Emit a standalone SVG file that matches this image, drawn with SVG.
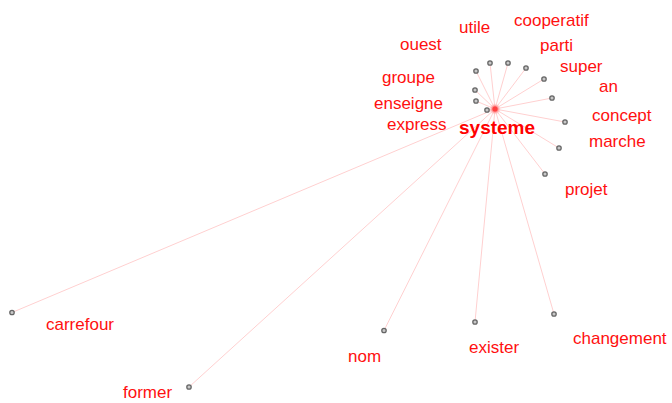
<svg xmlns="http://www.w3.org/2000/svg" width="672" height="403" viewBox="0 0 672 403">
<style>
.lbl{font-family:"Liberation Sans",Arial,sans-serif;font-size:17px;fill:#ff1010}
.main{font-family:"Liberation Sans",Arial,sans-serif;font-size:19px;font-weight:bold;fill:#ff0000}
.dot{fill:#c8c8c8;stroke:#666666;stroke-width:1.3}
#edges line{stroke:#ffd0d0;stroke-width:1}
</style>
<defs>
<radialGradient id="glow"><stop offset="0" stop-color="#ff5050"/><stop offset="0.45" stop-color="#ff8080"/><stop offset="1" stop-color="#ffd0d0" stop-opacity="0"/></radialGradient>
</defs>
<rect width="672" height="403" fill="#ffffff"/>
<g id="edges">
<line x1="495" y1="109" x2="476" y2="71"/>
<line x1="495" y1="109" x2="490" y2="63"/>
<line x1="495" y1="109" x2="508" y2="63"/>
<line x1="495" y1="109" x2="526" y2="68"/>
<line x1="495" y1="109" x2="544" y2="79"/>
<line x1="495" y1="109" x2="552" y2="98"/>
<line x1="495" y1="109" x2="565" y2="122"/>
<line x1="495" y1="109" x2="559" y2="148"/>
<line x1="495" y1="109" x2="545" y2="174"/>
<line x1="495" y1="109" x2="475" y2="90"/>
<line x1="495" y1="109" x2="476" y2="101"/>
<line x1="495" y1="109" x2="487" y2="110"/>
<line x1="495" y1="109" x2="12" y2="312.5"/>
<line x1="495" y1="109" x2="189" y2="387"/>
<line x1="495" y1="109" x2="384" y2="330.5"/>
<line x1="495" y1="109" x2="475" y2="322"/>
<line x1="495" y1="109" x2="554" y2="314"/>
</g>
<g id="n-systeme"><circle cx="495" cy="109" r="6" fill="url(#glow)"/><circle cx="495" cy="109" r="2.5" fill="#ff4040"/><text class="main" x="459" y="134">systeme</text></g>
<g id="n-ouest"><circle class="dot" cx="476" cy="71" r="2.2"/><text class="lbl" x="400" y="50">ouest</text></g>
<g id="n-utile"><circle class="dot" cx="490" cy="63" r="2.2"/><text class="lbl" x="459" y="33">utile</text></g>
<g id="n-cooperatif"><circle class="dot" cx="508" cy="63" r="2.2"/><text class="lbl" x="514" y="26">cooperatif</text></g>
<g id="n-parti"><circle class="dot" cx="526" cy="68" r="2.2"/><text class="lbl" x="540" y="51">parti</text></g>
<g id="n-super"><circle class="dot" cx="544" cy="79" r="2.2"/><text class="lbl" x="560" y="72">super</text></g>
<g id="n-an"><circle class="dot" cx="552" cy="98" r="2.2"/><text class="lbl" x="599" y="92">an</text></g>
<g id="n-concept"><circle class="dot" cx="565" cy="122" r="2.2"/><text class="lbl" x="592" y="121">concept</text></g>
<g id="n-marche"><circle class="dot" cx="559" cy="148" r="2.2"/><text class="lbl" x="589" y="147">marche</text></g>
<g id="n-projet"><circle class="dot" cx="545" cy="174" r="2.2"/><text class="lbl" x="565" y="195">projet</text></g>
<g id="n-groupe"><circle class="dot" cx="475" cy="90" r="2.2"/><text class="lbl" x="382" y="83">groupe</text></g>
<g id="n-enseigne"><circle class="dot" cx="476" cy="101" r="2.2"/><text class="lbl" x="374" y="109">enseigne</text></g>
<g id="n-express"><circle class="dot" cx="487" cy="110" r="2.2"/><text class="lbl" x="387" y="130">express</text></g>
<g id="n-carrefour"><circle class="dot" cx="12" cy="312.5" r="2.2"/><text class="lbl" x="46" y="330">carrefour</text></g>
<g id="n-former"><circle class="dot" cx="189" cy="387" r="2.2"/><text class="lbl" x="123" y="398">former</text></g>
<g id="n-nom"><circle class="dot" cx="384" cy="330.5" r="2.2"/><text class="lbl" x="348" y="362">nom</text></g>
<g id="n-exister"><circle class="dot" cx="475" cy="322" r="2.2"/><text class="lbl" x="469" y="353">exister</text></g>
<g id="n-changement"><circle class="dot" cx="554" cy="314" r="2.2"/><text class="lbl" x="573" y="344">changement</text></g>
</svg>
